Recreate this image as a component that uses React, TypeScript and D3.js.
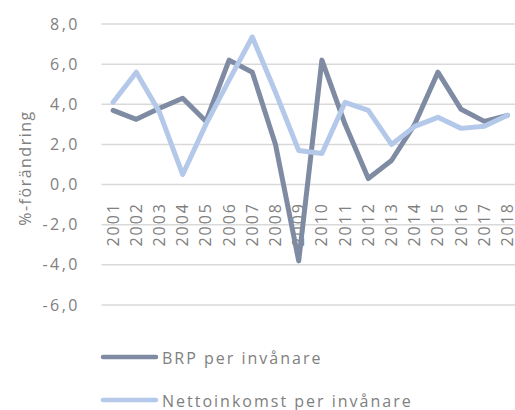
import React from "react";
import * as d3 from "d3";

const years = ["2001","2002","2003","2004","2005","2006","2007","2008","2009","2010","2011","2012","2013","2014","2015","2016","2017","2018"];
const brp = [3.7, 3.25, 3.8, 4.3, 3.15, 6.2, 5.6, 2.0, -3.8, 6.2, 3.0, 0.3, 1.2, 3.0, 5.6, 3.75, 3.15, 3.45];
const netto = [4.1, 5.6, 3.6, 0.5, 3.0, 5.2, 7.35, 4.6, 1.7, 1.55, 4.1, 3.7, 2.0, 2.9, 3.35, 2.8, 2.9, 3.45];
const yTicks = [8, 6, 4, 2, 0, -2, -4, -6];
const seriesNames = ["BRP per invånare", "Nettoinkomst per invånare"];
const colors = ["#7f8ba3", "#b4c8e9"];

const W = 515, H = 410;
const FONT = "'Open Sans', sans-serif";
const TXT = "#808080";

export default function App() {
  const x = d3.scaleBand<string>().domain(years).range([101.5, 101.5 + 18 * 23.2]);
  const y = d3.scaleLinear().domain([-6, 8]).range([305, 24]);
  const cx = (d: string) => (x(d) as number) + x.bandwidth() / 2;
  const line = d3.line<number>().x((_, i) => cx(years[i])).y((v) => y(v));
  const data = [brp, netto];

  return (
    <svg width={W} height={H} style={{ position: "absolute", left: 0, top: 0, background: "#fff" }}>
      {yTicks.map((t) => (
        <g key={t}>
          <line x1={101.5} x2={W} y1={y(t)} y2={y(t)} stroke="#d9d9d9" strokeWidth={1.5} />
          <text x={80} y={y(t) + 5.5} textAnchor="end" fontFamily={FONT} fontSize={16} letterSpacing={2.5} fill={TXT}>
            {t.toFixed(1).replace(".", ",")}
          </text>
        </g>
      ))}
      <text transform="translate(31,168) rotate(-90)" textAnchor="middle" fontFamily={FONT} fontSize={16} letterSpacing={1.5} fill={TXT}>
        %-förändring
      </text>
      {years.map((yr) => (
        <text key={yr} transform={`translate(${cx(yr) + 5.5},202) rotate(-90)`} textAnchor="end" fontFamily={FONT} fontSize={16} letterSpacing={2} fill={TXT}>
          {yr}
        </text>
      ))}
      {data.map((s, i) => (
        <path key={i} d={line(s) || ""} fill="none" stroke={colors[i]} strokeWidth={5} strokeLinejoin="round" strokeLinecap="round" />
      ))}
      {seriesNames.map((n, i) => (
        <g key={n}>
          <line x1={103} x2={156} y1={357 + i * 43} y2={357 + i * 43} stroke={colors[i]} strokeWidth={4.5} strokeLinecap="round" />
          <text x={162} y={364 + i * 43} fontFamily={FONT} fontSize={16} letterSpacing={2} fill={TXT}>
            {n}
          </text>
        </g>
      ))}
    </svg>
  );
}
